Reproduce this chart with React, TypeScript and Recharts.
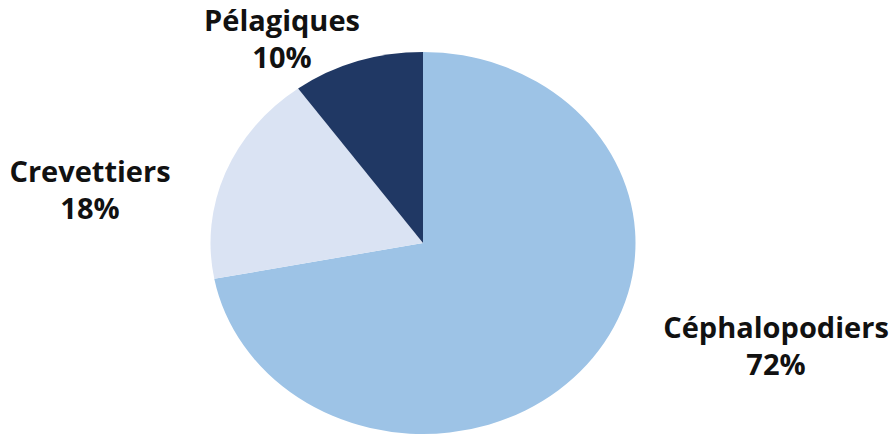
import { PieChart, Pie, Cell } from 'recharts';

const categories = ['Céphalopodiers', 'Crevettiers', 'Pélagiques'];
const shares = [72, 18, 10];
const colors = ['#9DC3E6', '#DAE3F3', '#203864'];

const data = categories.map((name, i) => ({ name, value: shares[i] }));

// the original pie is slightly squashed vertically
const SQUASH = 0.899;
const CX = 423;
const CY = 243; // centre on screen
const PAD = 60; // extra room above so nothing gets clipped before scaling
const SVG_H = 438 + 2 * PAD;
const LINE_GAP = 37;

// screen position of each label: centre x, baseline of the first line
const labelSpots: Record<string, { x: number; y: number }> = {
    'Céphalopodiers': { x: 776, y: 338 },
    'Crevettiers': { x: 90, y: 182 },
    'Pélagiques': { x: 282, y: 31 },
};

const labelStyle = { fontFamily: '"Open Sans", sans-serif', fontWeight: 700, fontSize: 29 };

function renderLabel(props: any) {
    const { name, value, cy } = props;
    const spot = labelSpots[name];
    if (!spot) return null;
    const y = cy + (spot.y - CY) / SQUASH;
    return (
        <g transform={`translate(${spot.x},${y}) scale(1,${1 / SQUASH})`}>
            <text x={0} y={0} textAnchor="middle" fill="#111111" style={labelStyle}>
                {name}
            </text>
            <text x={0} y={LINE_GAP} textAnchor="middle" fill="#111111" style={labelStyle}>
                {value}%
            </text>
        </g>
    );
}

export default function App() {
    return (
        <div style={{ position: 'absolute', left: 0, top: 0, width: 894, height: 438, background: '#fff', overflow: 'hidden' }}>
            <div style={{
                position: 'absolute', left: 0, top: -PAD,
                transform: `scaleY(${SQUASH})`, transformOrigin: `${CX}px ${CY + PAD}px`,
            }}>
                <PieChart width={894} height={SVG_H} margin={{ top: 0, right: 0, bottom: 0, left: 0 }}>
                    <Pie
                        data={data}
                        dataKey="value"
                        nameKey="name"
                        cx={CX}
                        cy={CY + PAD}
                        outerRadius={212.5}
                        startAngle={90}
                        endAngle={-270}
                        stroke="none"
                        label={renderLabel}
                        labelLine={false}
                        isAnimationActive={false}
                    >
                        {data.map((d, i) => (
                            <Cell key={d.name} fill={colors[i]} />
                        ))}
                    </Pie>
                </PieChart>
            </div>
        </div>
    );
}
